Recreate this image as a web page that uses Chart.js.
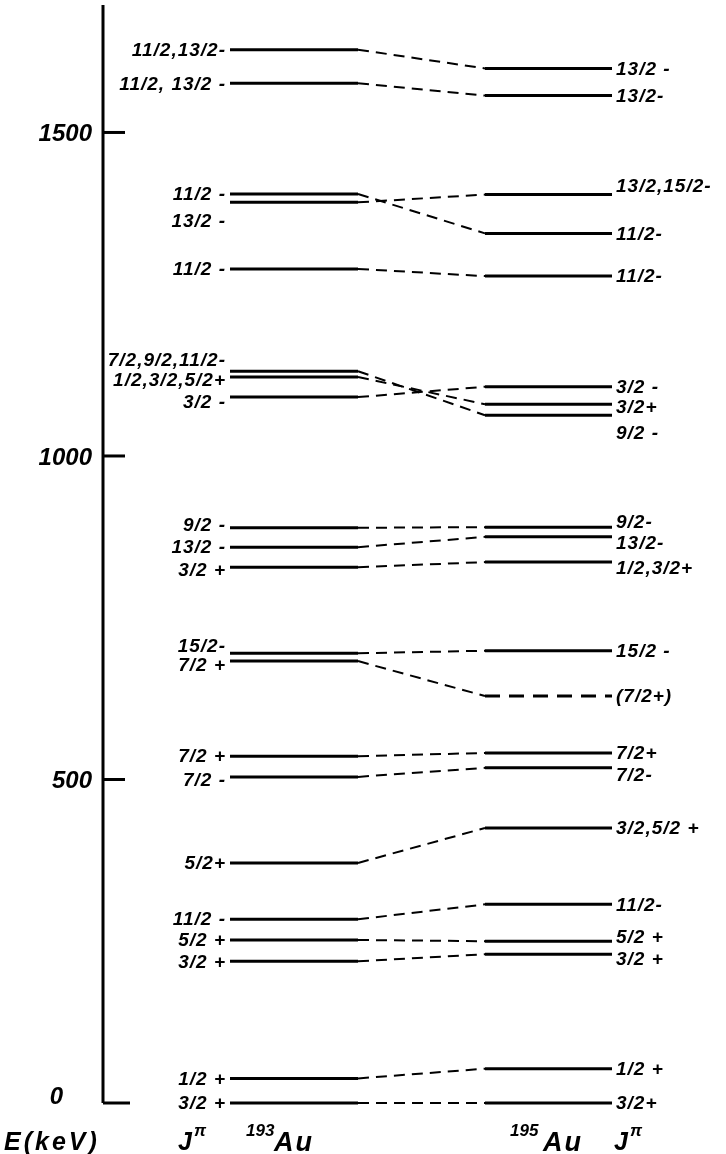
<!DOCTYPE html>
<html lang="en">
<head>
<meta charset="UTF-8">
<title>193Au / 195Au level schemes</title>
<script src="https://cdn.jsdelivr.net/npm/chart.js"></script>
<style>
  html, body { margin: 0; padding: 0; background: #fff; }
</style>
</head>
<body>
<canvas id="levels" width="726" height="1154"></canvas>
<script>
// level energies (keV) and spin/parity
const au193Energy = [0, 38, 219, 252, 284, 371, 504, 536, 683, 695, 828, 859, 889, 1091, 1122, 1131, 1289, 1392, 1405, 1576, 1628];
const au193Spin = ['3/2 +', '1/2 +', '3/2 +', '5/2 +', '11/2 -', '5/2+', '7/2 -', '7/2 +', '7/2 +', '15/2-',
                   '3/2 +', '13/2 -', '9/2 -', '3/2 -', '1/2,3/2,5/2+', '7/2,9/2,11/2-', '11/2 -', '13/2 -', '11/2 -',
                   '11/2, 13/2 -', '11/2,13/2-'];
const au195Energy = [0, 53, 230, 250, 307, 425, 518, 541, 629, 699, 836, 875, 890, 1063, 1080, 1107, 1278, 1344, 1404, 1557, 1599];
const au195Spin = ['3/2+', '1/2 +', '3/2 +', '5/2 +', '11/2-', '3/2,5/2 +', '7/2-', '7/2+', '(7/2+)', '15/2 -',
                   '1/2,3/2+', '13/2-', '9/2-', '9/2 -', '3/2+', '3/2 -', '11/2-', '11/2-', '13/2,15/2-',
                   '13/2-', '13/2 -'];
const au195Tentative = [false, false, false, false, false, false, false, false, true, false,
                        false, false, false, false, false, false, false, false, false, false, false];
// index of the 195Au level that each 193Au level is joined to
const links = [0, 1, 2, 3, 4, 5, 6, 7, 8, 9, 10, 11, 12, 15, 14, 13, 16, 18, 17, 19, 20];
const energyTicks = [0, 500, 1000, 1500];

// layout (page pixels)
const AXIS_X = 103;
const COL193 = [230, 358];
const COL195 = [485, 612];
const FONT = '"Liberation Sans", Arial, sans-serif';
// small vertical shifts of crowded labels
const nudge193 = {6: 3, 8: 4, 9: -8, 10: 3, 12: -3, 13: 5, 14: 3, 15: -11, 17: 18};
const nudge195 = {2: 5, 3: -4, 6: 7, 10: 6, 11: 6, 12: -5, 13: 18, 14: 3, 18: -9};

const datasets = [];
au193Energy.forEach(e => {
    datasets.push({
        data: [{x: COL193[0], y: e}, {x: COL193[1], y: e}],
        borderColor: '#000', borderWidth: 3
    });
});
au195Energy.forEach((e, i) => {
    datasets.push({
        data: [{x: COL195[0], y: e}, {x: COL195[1], y: e}],
        borderColor: '#000', borderWidth: 3,
        borderDash: au195Tentative[i] ? [15, 9] : []
    });
});
links.forEach((j, i) => {
    datasets.push({
        data: [{x: COL193[1], y: au193Energy[i]}, {x: COL195[0], y: au195Energy[j]}],
        borderColor: '#000', borderWidth: 2, borderDash: [11, 7]
    });
});

const schemeLabels = {
    id: 'schemeLabels',
    afterDraw(chart) {
        const ctx = chart.ctx;
        const y = chart.scales.y;
        const area = chart.chartArea;
        ctx.save();
        ctx.strokeStyle = '#000';
        ctx.fillStyle = '#000';

        // energy axis with inward ticks
        ctx.lineWidth = 3;
        ctx.beginPath();
        ctx.moveTo(AXIS_X, y.getPixelForValue(0));
        ctx.lineTo(AXIS_X, area.top);
        ctx.stroke();
        ctx.font = 'italic bold 24px ' + FONT;
        ctx.textAlign = 'right';
        ctx.textBaseline = 'middle';
        energyTicks.forEach(v => {
            const py = y.getPixelForValue(v);
            ctx.beginPath();
            ctx.moveTo(AXIS_X, py);
            ctx.lineTo(AXIS_X + (v === 0 ? 27 : 22), py);
            ctx.stroke();
            ctx.fillText(String(v), v === 0 ? 63 : 92, py + (v === 0 ? -6 : 2));
        });

        // spin labels
        ctx.font = 'italic bold 19px ' + FONT;
        ctx.letterSpacing = '1px';
        ctx.textAlign = 'right';
        au193Energy.forEach((e, i) => {
            ctx.fillText(au193Spin[i], COL193[0] - 4, y.getPixelForValue(e) + 1 + (nudge193[i] || 0));
        });
        ctx.textAlign = 'left';
        au195Energy.forEach((e, i) => {
            ctx.fillText(au195Spin[i], COL195[1] + 4, y.getPixelForValue(e) + 1 + (nudge195[i] || 0));
        });

        // bottom captions
        ctx.textBaseline = 'alphabetic';
        ctx.textAlign = 'left';
        ctx.font = 'italic bold 25px ' + FONT;
        ctx.letterSpacing = '3px';
        ctx.fillText('E(keV)', 4, 1150);
        ctx.letterSpacing = '2px';
        ctx.fillText('J', 178, 1150);
        ctx.fillText('J', 614, 1150);
        ctx.font = 'italic bold 27px ' + FONT;
        ctx.fillText('Au', 274, 1151);
        ctx.fillText('Au', 543, 1151);
        ctx.font = 'italic bold 17px ' + FONT;
        ctx.letterSpacing = '0px';
        ctx.fillText('\u03c0', 194, 1136);
        ctx.fillText('\u03c0', 630, 1136);
        ctx.fillText('193', 246, 1136);
        ctx.fillText('195', 510, 1136);
        ctx.restore();
    }
};

new Chart(document.getElementById('levels'), {
    type: 'scatter',
    data: { datasets: datasets },
    options: {
        responsive: false,
        animation: false,
        devicePixelRatio: 1,
        showLine: true,
        clip: false,
        elements: { point: { radius: 0, hoverRadius: 0 }, line: { tension: 0 } },
        layout: { padding: { left: AXIS_X, top: 5, right: 0, bottom: 51 } },
        plugins: { legend: { display: false }, tooltip: { enabled: false } },
        scales: {
            x: { type: 'linear', display: false, min: AXIS_X, max: 726 },
            y: { type: 'linear', display: false, min: 0, max: 1697 }
        }
    },
    plugins: [schemeLabels]
});
</script>
</body>
</html>
